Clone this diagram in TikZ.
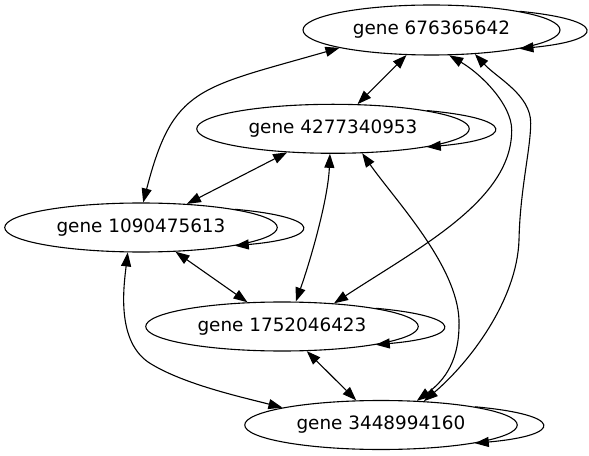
\documentclass[tikz,border=0pt]{standalone}
\usepackage{fontspec}
\setmainfont{DejaVu Sans}
\usetikzlibrary{shapes.geometric,arrows.meta}
\begin{document}
\begin{tikzpicture}[x=1bp,y=-1bp,
  gene/.style={draw, ellipse, line width=1.1bp, minimum width=272.5bp, minimum height=49bp, inner sep=0pt, font=\fontsize{18.4bp}{22bp}\selectfont},
  edge/.style={line width=1.1bp, {Triangle[length=14bp,width=10bp]}-{Triangle[length=14bp,width=10bp]}},
  loopedge/.style={line width=1.1bp, -{Triangle[length=14bp,width=10bp]}}]
\useasboundingbox (0,0) rectangle (589,456);
\node[gene, minimum width=257bp, minimum height=50bp] (A) at (431.5,30) {gene 676365642};
\node[gene] (B) at (333,128.8) {gene 4277340953};
\node[gene] (C) at (141,227.5) {gene 1090475613};
\node[gene] (D) at (282,326.5) {gene 1752046423};
\node[gene] (E) at (381,425) {gene 3448994160};
% straight edges
\draw[edge] (A) -- (B);
\draw[edge] (B) -- (C);
\draw[edge] (C) -- (D);
\draw[edge] (D) -- (E);
% curved edges
\draw[edge] (A.191) .. controls (198.5,88.4) and (173,86.6) .. (C.85);
\draw[edge] (A.-55) .. controls (482,74.5) and (511.7,105) .. (511.7,130) .. controls (512,200) and (420,247) .. (D.24);
\draw[edge] (A.-29) .. controls (497,78) and (531,95) .. (530.7,123.3) .. controls (530.5,150) and (520,190) .. (519,240) .. controls (517,300) and (470,362) .. (E.29);
\draw[edge] (B.-97) .. controls (328,200) and (310,262) .. (D.61);
\draw[edge] (B.-40) .. controls (395,200) and (457,265) .. (459,320) .. controls (460,360) and (445,380) .. (E.34);
\draw[edge] (C.-118) .. controls (123.7,286.7) and (116,342) .. (150,363.3) .. controls (184,384.5) and (243.3,397.5) .. (E.170);
% self loops
\draw[loopedge] (A.12) .. controls ([shift={(46.7,-10.2)}]A.east) and ([shift={(46.7,10.2)}]A.east) .. (A.-12);
\draw[loopedge] (B.11) .. controls ([shift={(46.7,-10.2)}]B.east) and ([shift={(46.7,10.2)}]B.east) .. (B.-11);
\draw[loopedge] (C.11) .. controls ([shift={(46.7,-10.2)}]C.east) and ([shift={(46.7,10.2)}]C.east) .. (C.-11);
\draw[loopedge] (D.11) .. controls ([shift={(46.7,-10.2)}]D.east) and ([shift={(46.7,10.2)}]D.east) .. (D.-11);
\draw[loopedge] (E.11) .. controls ([shift={(46.7,-10.2)}]E.east) and ([shift={(46.7,10.2)}]E.east) .. (E.-11);
\end{tikzpicture}
\end{document}
